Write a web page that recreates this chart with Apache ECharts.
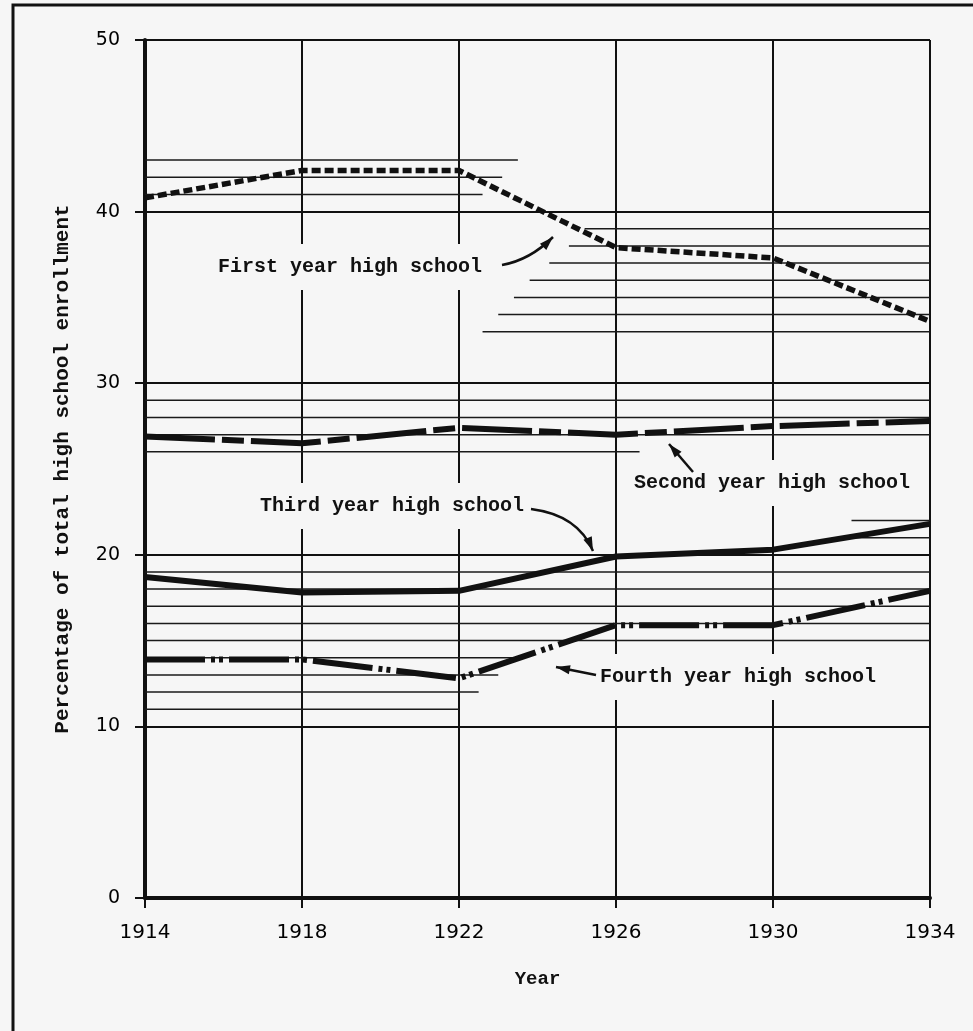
<!DOCTYPE html>
<html>
<head>
<meta charset="utf-8">
<title>High school enrollment by year</title>
<script src="https://cdn.jsdelivr.net/npm/echarts@6/dist/echarts.min.js"></script>
<style>
  html, body { margin: 0; padding: 0; background: #f6f6f6; }
  #chart { width: 973px; height: 1031px; }
</style>
</head>
<body>
<div id="chart"></div>
<script>
// values (percent of total high school enrollment)
const years = [1914, 1918, 1922, 1926, 1930, 1934]
const firstYear = [40.8, 42.4, 42.4, 37.9, 37.3, 33.6]
const secondYear = [26.9, 26.5, 27.4, 27.0, 27.5, 27.8]
const thirdYear = [18.7, 17.8, 17.9, 19.9, 20.3, 21.8]
const fourthYear = [13.9, 13.9, 12.8, 15.9, 15.9, 17.9]

// partial ruling left on the graph paper: [value, from year, to year]
const ruledLines = [
  [43, 1914, 1923.5], [42, 1914, 1923.1], [41, 1914, 1922.6],
  [39, 1925.2, 1934], [38, 1924.8, 1934], [37, 1924.3, 1934], [36, 1923.8, 1934],
  [35, 1923.4, 1934], [34, 1923, 1934], [33, 1922.6, 1934],
  [29, 1914, 1934], [28, 1914, 1934], [27, 1914, 1934], [26, 1914, 1926.6],
  [22, 1932, 1934], [21, 1931.5, 1934],
  [19, 1914, 1934], [18, 1914, 1934], [17, 1914, 1934], [16, 1914, 1934], [15, 1914, 1934],
  [14, 1914, 1923.4], [13, 1914, 1923], [12, 1914, 1922.5], [11, 1914, 1922]
]

const BASE = 1914   // x axis counts years from 1914 so ticks start on a multiple of 4
const BG = '#f6f6f6'
const INK = '#111'
const typeFont = 'bold 20px "Liberation Mono"'

const chartInstance = echarts.init(document.getElementById('chart'))

function toPoints(vals) {
  return years.map((y, i) => [y - BASE, vals[i]])
}

// arrow = curve (or straight line) + filled head at the end point
function arrow(x1, y1, x2, y2, cx, cy) {
  const els = []
  if (cx == null) {
    els.push({ type: 'line', z: 10, shape: { x1, y1, x2, y2 }, style: { stroke: INK, lineWidth: 2.5 } })
    cx = x1; cy = y1
  } else {
    els.push({ type: 'bezierCurve', z: 10, shape: { x1, y1, x2, y2, cpx1: cx, cpy1: cy }, style: { stroke: INK, lineWidth: 2.5, fill: null } })
  }
  const ang = Math.atan2(y2 - cy, x2 - cx)
  const len = 14, half = 4.5
  const bx = x2 - Math.cos(ang) * len, by = y2 - Math.sin(ang) * len
  els.push({
    type: 'polygon', z: 10,
    shape: { points: [
      [x2, y2],
      [bx - Math.sin(ang) * half, by + Math.cos(ang) * half],
      [bx + Math.sin(ang) * half, by - Math.cos(ang) * half]
    ] },
    style: { fill: INK }
  })
  return els
}

function label(text, x, y) {
  return {
    type: 'text', z: 4, x, y,
    style: { text, font: typeFont, fill: INK, verticalAlign: 'middle', backgroundColor: BG, padding: [13, 5] }
  }
}

const ruleSeries = ruledLines.map(r => ({
  type: 'line', silent: true, symbol: 'none', z: 1,
  data: [[r[1] - BASE, r[0]], [r[2] - BASE, r[0]]],
  lineStyle: { color: '#1a1a1a', width: 1.5 }
}))

const option = {
  backgroundColor: BG,
  animation: false,
  grid: { left: 145, right: 43, top: 40, bottom: 133, outerBoundsMode: 'none' },
  xAxis: {
    type: 'value', min: 0, max: 20, interval: 4,
    name: 'Year', nameLocation: 'middle', nameGap: 72,
    nameTextStyle: { color: INK, fontFamily: 'Liberation Mono', fontWeight: 'bold', fontSize: 19 },
    axisLine: { show: true, onZero: false, lineStyle: { color: INK, width: 4 } },
    axisTick: { show: true, length: 10, lineStyle: { color: INK, width: 2 } },
    axisLabel: { margin: 25, color: '#000', fontFamily: 'DejaVu Sans', fontSize: 20, formatter: v => String(v + BASE) },
    splitLine: { show: true, lineStyle: { color: INK, width: 2 } }
  },
  yAxis: {
    type: 'value', min: 0, max: 50, interval: 10,
    name: 'Percentage of total high school enrollment', nameLocation: 'middle', nameGap: 72,
    nameTextStyle: { color: INK, fontFamily: 'Liberation Mono', fontWeight: 'bold', fontSize: 21 },
    axisLine: { show: true, lineStyle: { color: INK, width: 4 } },
    axisTick: { show: true, length: 10, lineStyle: { color: INK, width: 2 } },
    axisLabel: { margin: 25, color: '#000', fontFamily: 'DejaVu Sans', fontSize: 19 },
    splitLine: { show: true, lineStyle: { color: INK, width: 2 } }
  },
  series: ruleSeries.concat([
    {
      name: 'First year high school', type: 'line', symbol: 'none', z: 5,
      data: toPoints(firstYear),
      lineStyle: { color: INK, width: 5.5, type: [9, 4], cap: 'butt' }
    },
    {
      name: 'Second year high school', type: 'line', symbol: 'none', z: 5,
      data: toPoints(secondYear),
      lineStyle: { color: INK, width: 6, type: [70, 7, 22, 7], cap: 'butt' }
    },
    {
      name: 'Third year high school', type: 'line', symbol: 'none', z: 5,
      data: toPoints(thirdYear),
      lineStyle: { color: INK, width: 6 }
    },
    {
      name: 'Fourth year high school', type: 'line', symbol: 'none', z: 5,
      data: toPoints(fourthYear),
      lineStyle: { color: INK, width: 6, type: [60, 6, 4, 4, 4, 6], cap: 'butt' }
    }
  ]),
  graphic: [
    // scan frame
    { type: 'polyline', z: 10, shape: { points: [[13, 1031], [13, 5], [973, 5]] }, style: { stroke: INK, lineWidth: 3, fill: null } },
    label('First year high school', 213, 267),
    label('Second year high school', 629, 483),
    label('Third year high school', 255, 506),
    label('Fourth year high school', 595, 677)
  ]
    .concat(arrow(502, 265, 553, 237, 530, 260))
    .concat(arrow(693, 472, 669, 444))
    .concat(arrow(531, 509, 593, 551, 578, 515))
    .concat(arrow(596, 675, 556, 667))
}

chartInstance.setOption(option)
</script>
</body>
</html>
